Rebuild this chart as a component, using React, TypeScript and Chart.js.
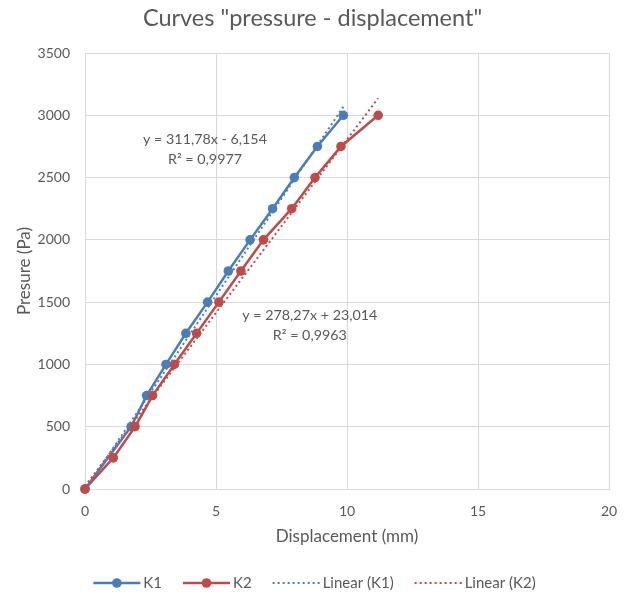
import React, { useEffect, useRef } from "react";
import { Chart, registerables } from "chart.js";

Chart.register(...registerables);

// ---- data ----
const k1Displacement = [0, 1.76, 2.35, 3.09, 3.85, 4.68, 5.47, 6.3, 7.16, 7.99, 8.87, 9.86];
const k1Pressure = [0, 500, 750, 1000, 1250, 1500, 1750, 2000, 2250, 2500, 2750, 3000];
const k2Displacement = [0, 1.08, 1.91, 2.58, 3.41, 4.26, 5.11, 5.95, 6.81, 7.89, 8.78, 9.77, 11.19];
const k2Pressure = [0, 250, 500, 750, 1000, 1250, 1500, 1750, 2000, 2250, 2500, 2750, 3000];
// trendline coefficients [slope, intercept] as printed on the chart
const k1Trend = [311.78, -6.154];
const k2Trend = [278.27, 23.014];
const k1TrendText = ["y = 311,78x - 6,154", "R² = 0,9977"];
const k2TrendText = ["y = 278,27x + 23,014", "R² = 0,9963"];
// label anchors in data units [x, y]
const k1TrendLabelAt = [4.58, 2730];
const k2TrendLabelAt = [8.58, 1310];
const seriesNames = ["K1", "K2", "Linear (K1)", "Linear (K2)"];
const chartTitle = 'Curves "pressure - displacement"';
const xAxisTitle = "Displacement (mm)";
const yAxisTitle = "Presure (Pa)";
const xRange = [0, 20, 5];
const yRange = [0, 3500, 500];

const BLUE = "#4a7ebb";
const RED = "#be4b48";
const TEXT = "#595959";
const GRID = "#d9d9d9";
const FONT = "Lato";

const toPoints = (xs: number[], ys: number[]) => xs.map((x, i) => ({ x, y: ys[i] }));
const trendPoints = (coef: number[], xs: number[]) => {
  const xMax = Math.max(...xs);
  return [0, xMax].map((x) => ({ x, y: coef[0] * x + coef[1] }));
};

const titlePlugin = {
  id: "excelTitle",
  afterDraw(chart: any) {
    const ctx = chart.ctx;
    ctx.save();
    ctx.font = `23.5px ${FONT}`;
    ctx.fillStyle = TEXT;
    ctx.textAlign = "center";
    ctx.textBaseline = "middle";
    ctx.fillText(chartTitle, chart.width / 2, 18);
    ctx.restore();
  },
};

const trendLabelPlugin = {
  id: "trendLabels",
  afterDatasetsDraw(chart: any) {
    const { ctx, scales } = chart;
    ctx.save();
    ctx.font = `14.3px ${FONT}`;
    ctx.fillStyle = TEXT;
    ctx.textAlign = "center";
    ctx.textBaseline = "middle";
    const draw = (lines: string[], at: number[]) => {
      const px = scales.x.getPixelForValue(at[0]);
      const py = scales.y.getPixelForValue(at[1]);
      ctx.fillText(lines[0], px, py - 10);
      ctx.fillText(lines[1], px, py + 10);
    };
    draw(k1TrendText, k1TrendLabelAt);
    draw(k2TrendText, k2TrendLabelAt);
    ctx.restore();
  },
};

const legendPlugin = {
  id: "excelLegend",
  afterDraw(chart: any) {
    const ctx = chart.ctx;
    const ds = chart.data.datasets;
    ctx.save();
    ctx.font = `15px ${FONT}`;
    const lineLen = 47;
    const gapText = 3;
    const gapItem = 21;
    const widths = ds.map((d: any) => lineLen + gapText + ctx.measureText(d.label).width);
    const total = widths.reduce((a: number, b: number) => a + b, 0) + gapItem * (ds.length - 1);
    let x = (chart.width - total) / 2 + 2;
    const y = 583;
    ds.forEach((d: any, i: number) => {
      ctx.strokeStyle = d.borderColor;
      ctx.lineWidth = d.borderWidth;
      ctx.setLineDash(d.borderDash || []);
      ctx.beginPath();
      ctx.moveTo(x, y);
      ctx.lineTo(x + lineLen, y);
      ctx.stroke();
      ctx.setLineDash([]);
      if (d.pointRadius > 0) {
        ctx.fillStyle = d.borderColor;
        ctx.beginPath();
        ctx.arc(x + lineLen / 2, y, d.pointRadius, 0, Math.PI * 2);
        ctx.fill();
      }
      ctx.fillStyle = TEXT;
      ctx.textAlign = "left";
      ctx.textBaseline = "middle";
      ctx.fillText(d.label, x + lineLen + gapText, y);
      x += widths[i] + gapItem;
    });
    ctx.restore();
  },
};

export default function App() {
  const ref = useRef<HTMLCanvasElement>(null);
  useEffect(() => {
    if (!ref.current) return;
    const chart = new Chart(ref.current, {
      type: "scatter",
      data: {
        datasets: [
          {
            label: seriesNames[0],
            data: toPoints(k1Displacement, k1Pressure),
            showLine: true,
            borderColor: BLUE,
            backgroundColor: BLUE,
            borderWidth: 2.5,
            pointRadius: 4.8,
            pointBorderWidth: 0,
            clip: false,
            order: 3,
          },
          {
            label: seriesNames[1],
            data: toPoints(k2Displacement, k2Pressure),
            showLine: true,
            borderColor: RED,
            backgroundColor: RED,
            borderWidth: 2.5,
            pointRadius: 4.8,
            pointBorderWidth: 0,
            clip: false,
            order: 2,
          },
          {
            label: seriesNames[2],
            data: trendPoints(k1Trend, k1Displacement),
            showLine: true,
            borderColor: BLUE,
            backgroundColor: BLUE,
            borderWidth: 2,
            borderDash: [2, 3],
            pointRadius: 0,
            order: 1,
          },
          {
            label: seriesNames[3],
            data: trendPoints(k2Trend, k2Displacement),
            showLine: true,
            borderColor: RED,
            backgroundColor: RED,
            borderWidth: 2,
            borderDash: [2, 3],
            pointRadius: 0,
            order: 0,
          },
        ],
      },
      options: {
        animation: false,
        responsive: false,
        layout: { padding: { top: 53, left: 0, right: 16, bottom: 0 } },
        plugins: {
          legend: { display: false },
          tooltip: { enabled: false },
          title: { display: false },
        },
        scales: {
          x: {
            type: "linear",
            min: xRange[0],
            max: xRange[1],
            afterFit: (s: any) => {
              s.height = 108;
              s.paddingRight = 0;
              s.paddingLeft = 0;
            },
            ticks: {
              stepSize: xRange[2],
              color: TEXT,
              font: { family: FONT, size: 14 },
              padding: 14,
              callback: (v: any) => String(v),
            },
            grid: { color: GRID, drawTicks: false },
            border: { color: GRID },
            title: {
              display: true,
              text: xAxisTitle,
              color: TEXT,
              font: { family: FONT, size: 17 },
              padding: { top: 0, bottom: 49.8 },
            },
          },
          y: {
            type: "linear",
            min: yRange[0],
            max: yRange[1],
            afterFit: (s: any) => {
              s.width = 85;
              s.paddingTop = 0;
              s.paddingBottom = 0;
            },
            ticks: {
              stepSize: yRange[2],
              color: TEXT,
              font: { family: FONT, size: 14 },
              padding: 15,
              callback: (v: any) => String(v),
            },
            grid: { color: GRID, drawTicks: false },
            border: { color: GRID },
            title: {
              display: true,
              text: yAxisTitle,
              color: TEXT,
              font: { family: FONT, size: 17 },
              padding: { top: 14.8, bottom: 0 },
            },
          },
        },
      },
      plugins: [titlePlugin, trendLabelPlugin, legendPlugin],
    } as any);
    return () => chart.destroy();
  }, []);
  return (
    <div style={{ position: "absolute", left: 0, top: 0, width: 625, height: 597, background: "#fff" }}>
      <canvas ref={ref} width={625} height={597} />
    </div>
  );
}
